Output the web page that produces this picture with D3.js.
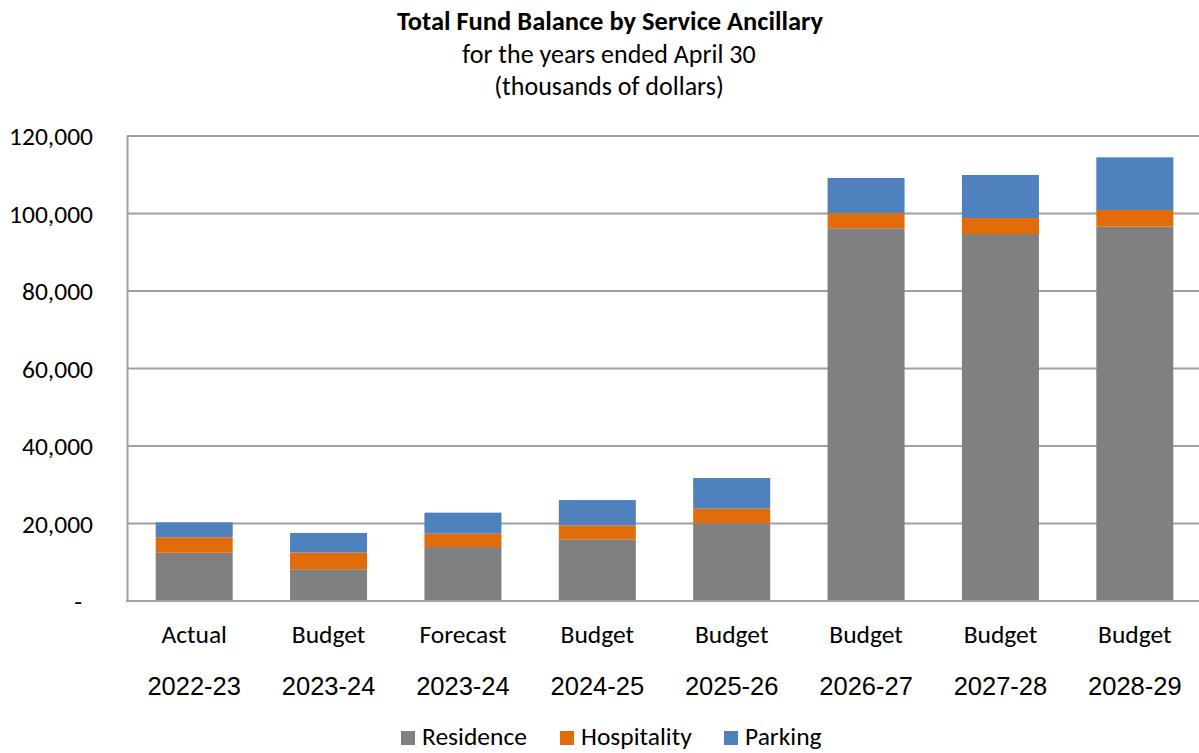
<!DOCTYPE html>
<html><head><meta charset="utf-8">
<script src="https://cdn.jsdelivr.net/npm/d3@7"></script>
<style>body{margin:0;background:#fff}svg{font-family:Carlito,Calibri,"Open Sans","Noto Sans",sans-serif}</style>
</head><body><svg id="c" width="1199" height="753"></svg>
<script>
const catTop = ["Actual","Budget","Forecast","Budget","Budget","Budget","Budget","Budget"];
const catYear = ["2022-23","2023-24","2023-24","2024-25","2025-26","2026-27","2027-28","2028-29"];
const residence = [12450, 8200, 13950, 15900, 20050, 96200, 94700, 96600];
const hospitality = [3990, 4280, 3430, 3620, 3780, 3870, 4130, 4300];
const parking = [3860, 5080, 5420, 6530, 7900, 9110, 11100, 13600];
const seriesNames = ["Residence","Hospitality","Parking"];
const seriesColors = ["#808080","#E36C0A","#4F81BD"];
const yTicks = [0,20000,40000,60000,80000,100000,120000];

const FONT = 'Carlito,Calibri,"Open Sans","Noto Sans",sans-serif';
const FS = 25.5;
const svg = d3.select("#c");
const L = 127, R = 1199, T = 136, B = 601;
const keys = catTop.map((c,i)=>i);
const x = d3.scaleBand().domain(keys).range([L,1202]).paddingInner(0.427).paddingOuter(0.2135);
const y = d3.scaleLinear().domain([0,120000]).range([B,T]);

svg.append("g").selectAll("line").data(yTicks.filter(d=>d>0)).join("line")
  .attr("x1",L).attr("x2",R).attr("y1",d=>y(d)).attr("y2",d=>y(d))
  .attr("stroke","#a0a0a0").attr("stroke-width",2);

const rows = keys.map(i=>({i, Residence:residence[i], Hospitality:hospitality[i], Parking:parking[i]}));
const stack = d3.stack().keys(seriesNames)(rows);
svg.append("g").selectAll("g").data(stack).join("g")
  .attr("fill",(d,k)=>seriesColors[k])
  .selectAll("rect").data(d=>d).join("rect")
  .attr("x",d=>x(d.data.i)).attr("width",x.bandwidth())
  .attr("y",d=>y(d[1])).attr("height",d=>y(d[0])-y(d[1]));

const yAxis = d3.axisLeft(y).tickValues(yTicks).tickSize(0).tickPadding(34)
  .tickFormat(d=>d===0?"-":d3.format(",")(d));
const gy = svg.append("g").attr("transform",`translate(${L},0)`).call(yAxis);
gy.select(".domain").attr("stroke","#a0a0a0").attr("stroke-width",2);
gy.selectAll("text").attr("font-size",FS).attr("fill","#000").attr("dy","0.35em").attr("font-family",FONT);
gy.selectAll(".tick").filter(d=>d===0).select("text").attr("dx",-11);

svg.append("line").attr("x1",L-1).attr("x2",R).attr("y1",B).attr("y2",B)
  .attr("stroke","#a0a0a0").attr("stroke-width",2);

const xAxis = d3.axisBottom(x).tickSize(0).tickFormat(i=>catTop[i]).tickPadding(24);
const gx = svg.append("g").attr("transform",`translate(0,${B})`).call(xAxis);
gx.select(".domain").remove();
gx.selectAll("text").attr("font-size",FS).attr("fill","#000").attr("font-family",FONT);
gx.selectAll(".tick").append("text").attr("y",76).attr("dy","0.71em").attr("fill","#000")
  .attr("font-size",FS).attr("text-anchor","middle").text(i=>catYear[i]);

const tt = svg.append("g").attr("text-anchor","middle").attr("fill","#000");
tt.append("text").attr("x",610).attr("y",30).attr("font-size",26.5).attr("font-weight","bold").text("Total Fund Balance by Service Ancillary");
tt.append("text").attr("x",609).attr("y",63).attr("font-size",26).text("for the years ended April 30");
tt.append("text").attr("x",609).attr("y",95).attr("font-size",26).text("(thousands of dollars)");

const legX = [401,560,724];
const lg = svg.append("g");
seriesNames.forEach((n,k)=>{
  lg.append("rect").attr("x",legX[k]).attr("y",731).attr("width",14).attr("height",14).attr("fill",seriesColors[k]);
  lg.append("text").attr("x",legX[k]+21).attr("y",745).attr("font-size",FS).attr("fill","#000").text(n);
});
</script></body></html>
